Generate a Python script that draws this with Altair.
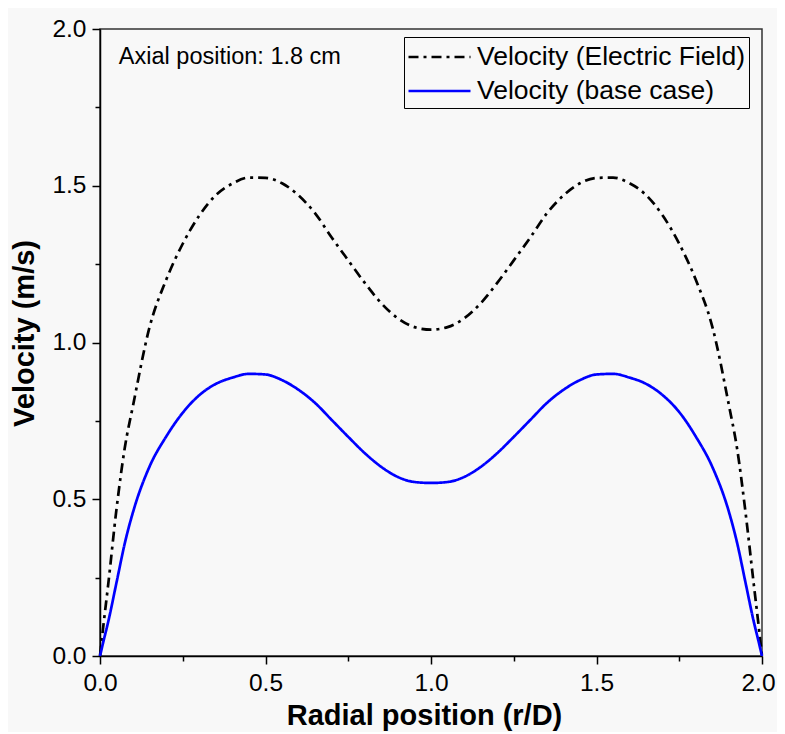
import altair as alt
import pandas as pd

# ---- data ----
r_pos = [0, 0.01, 0.025, 0.05, 0.075, 0.1, 0.15, 0.2, 0.25, 0.3, 0.35, 0.4, 0.45,
         0.5, 0.55, 0.6, 0.65, 0.7, 0.75, 0.8, 0.85, 0.9, 0.95, 1.0,
         1.05, 1.1, 1.15, 1.2, 1.25, 1.3, 1.35, 1.4, 1.45, 1.5, 1.55, 1.6,
         1.65, 1.7, 1.75, 1.8, 1.85, 1.9, 1.925, 1.95, 1.975, 1.99, 2.0]

vel_electric = [0, 0.095, 0.23, 0.47, 0.665, 0.80, 1.05, 1.20, 1.315, 1.405, 1.47, 1.507, 1.526,
                1.525, 1.508, 1.469, 1.412, 1.335, 1.262, 1.19, 1.125, 1.077, 1.049, 1.041,
                1.049, 1.077, 1.125, 1.19, 1.262, 1.335, 1.412, 1.469, 1.508, 1.525, 1.526, 1.508,
                1.47, 1.405, 1.315, 1.20, 1.05, 0.80, 0.66, 0.46, 0.23, 0.095, 0]

vel_base = [0, 0.045, 0.11, 0.235, 0.36, 0.46, 0.605, 0.70, 0.776, 0.832, 0.868, 0.888, 0.90,
            0.898, 0.88, 0.849, 0.807, 0.753, 0.699, 0.647, 0.603, 0.571, 0.555, 0.552,
            0.555, 0.571, 0.603, 0.647, 0.699, 0.753, 0.807, 0.849, 0.88, 0.898, 0.90, 0.888,
            0.868, 0.832, 0.778, 0.70, 0.603, 0.46, 0.36, 0.235, 0.11, 0.045, 0]

series_names = ["Velocity (Electric Field)", "Velocity (base case)"]
series_colors = ["black", "#0000ff"]

x_major = [0, 0.5, 1.0, 1.5, 2.0]
x_minor = [0.25, 0.75, 1.25, 1.75]
y_major = [0, 0.5, 1.0, 1.5, 2.0]
y_minor = [0.25, 0.75, 1.25, 1.75]

annot_text = ["Axial position: 1.8 cm"]
annot_x = [0.057]
annot_y = [1.888]

# ---- tables ----
rows = []
for name, vals in zip(series_names, [vel_electric, vel_base]):
    for i, (r, v) in enumerate(zip(r_pos, vals)):
        rows.append({"r": r, "v": v, "series": name, "order": i})
df = pd.DataFrame(rows)
annot_df = pd.DataFrame({"x": annot_x, "y": annot_y, "t": annot_text})

FONT = "Liberation Sans"
BG = "#f8f8f8"

xscale = alt.Scale(domain=[0, 2], nice=False, zero=False)
yscale = alt.Scale(domain=[0, 2], nice=False, zero=False)

# long horizontal legend stroke: custom path, scaled by sqrt(size)/2
legend = alt.Legend(
    title=None, orient="none", legendX=304, legendY=8,
    symbolType="M-1,0H3", symbolSize=961, symbolStrokeWidth=2.6,
    labelFontSize=26.5, labelFont=FONT, labelColor="black", labelOffset=36,
    rowPadding=3, padding=3, strokeColor="black", fillColor=BG,
    labelLimit=400,
)

lines = alt.Chart(df).mark_line(strokeWidth=2.7, interpolate="monotone").encode(
    x=alt.X("r:Q", scale=xscale, axis=alt.Axis(
        values=x_major, format=".1f", title="Radial position (r/D)",
        tickSize=8, labelPadding=7, titlePadding=7, orient="bottom",
        labelFlush=False, titleX=324, titleAnchor="middle",
        labelOffset={"condition": {"test": "datum.value == 2", "value": -4}, "value": 0})),
    y=alt.Y("v:Q", scale=yscale, axis=alt.Axis(
        values=y_major, format=".1f", title="Velocity (m/s)",
        tickSize=8, labelPadding=6, titlePadding=12, orient="left",
        labelFlush=False, titleY=304, titleAnchor="middle")),
    color=alt.Color("series:N", scale=alt.Scale(domain=series_names, range=series_colors),
                    legend=legend),
    strokeDash=alt.StrokeDash("series:N", scale=alt.Scale(domain=series_names,
                              range=[[10, 5, 3, 5], [1, 0]]), legend=legend),
    order="order:Q",
)

minor = alt.Chart(df).mark_point(opacity=0).encode(
    x=alt.X("r:Q", scale=xscale, axis=alt.Axis(
        values=x_minor, labels=False, domain=False, title=None, tickSize=5,
        orient="bottom")),
    y=alt.Y("v:Q", scale=yscale, axis=alt.Axis(
        values=y_minor, labels=False, domain=False, title=None, tickSize=5,
        orient="left")),
)

annot = alt.Chart(annot_df).mark_text(
    align="left", baseline="alphabetic", fontSize=23.5, font=FONT, color="black"
).encode(
    x=alt.X("x:Q", scale=xscale, axis=None),
    y=alt.Y("y:Q", scale=yscale, axis=None),
    text="t:N",
)

chart = alt.layer(lines, minor, annot).resolve_axis(
    x="independent", y="independent"
).properties(
    width=662, height=627,
    background=BG,
    autosize=alt.AutoSizeParams(type="none"),
    padding={"left": 92, "top": 21, "right": 15, "bottom": 76},
).configure_view(
    stroke="#333333", strokeWidth=1.5, fill=BG,
).configure_axis(
    labelFont=FONT, labelFontSize=24.5, labelColor="black",
    titleFont=FONT, titleFontSize=29, titleFontWeight="bold", titleColor="black",
    domainColor="black", domainWidth=1.5, tickColor="black", tickWidth=1.5,
    grid=False,
)

chart.save("out.html", embed_options={"renderer": "svg", "actions": False})
